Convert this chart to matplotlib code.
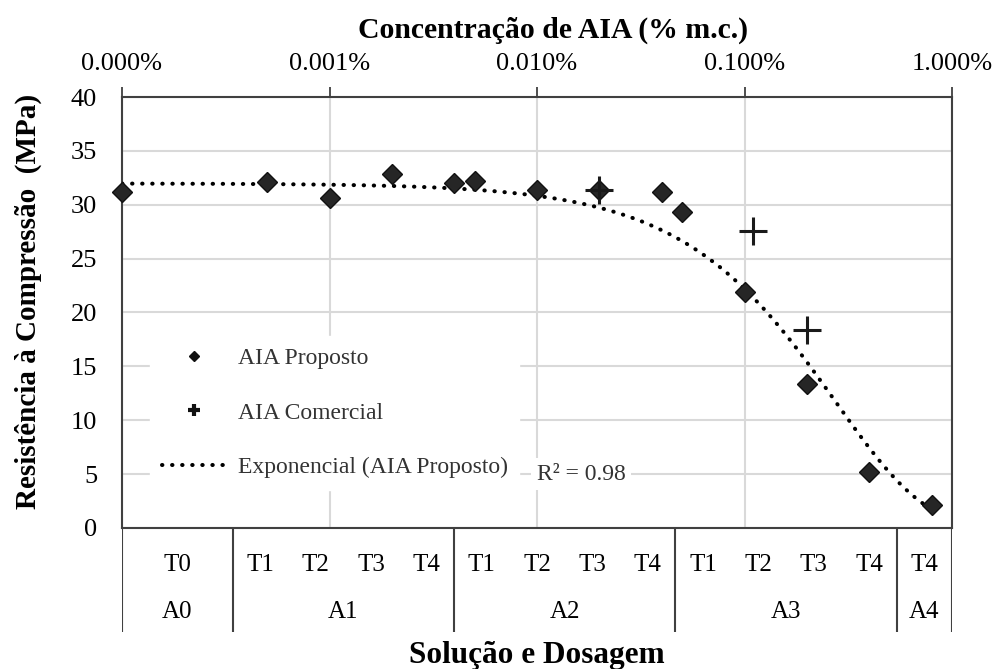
import numpy as np
import matplotlib
matplotlib.use("Agg")
import matplotlib.pyplot as plt
from matplotlib.lines import Line2D
from matplotlib.ticker import FixedLocator, NullLocator, FuncFormatter

plt.rcParams['font.family'] = ['Liberation Serif', 'DejaVu Serif']

# AIA Proposto: concentration (% m.c.) and compressive strength (MPa)
conc_proposto = [0.0, 0.0005, 0.001, 0.002, 0.004, 0.005, 0.01, 0.02,
                 0.04, 0.05, 0.1, 0.2, 0.4, 0.8]
res_proposto = [31.2, 32.1, 30.6, 32.9, 32.0, 32.2, 31.4, 31.4,
                31.2, 29.3, 21.9, 13.4, 5.2, 2.1]

# AIA Comercial
conc_comercial = [0.02, 0.11, 0.2]
res_comercial = [31.4, 27.6, 18.4]

# bottom category table
groups = ["A0", "A1", "A2", "A3", "A4"]
group_slots = [2, 4, 4, 4, 1]
doses = [["T0"], ["T1", "T2", "T3", "T4"], ["T1", "T2", "T3", "T4"],
         ["T1", "T2", "T3", "T4"], ["T4"]]

top_ticks = [0.0001, 0.001, 0.01, 0.1, 1.0]
x_min = 0.0001  # "0.000%" sits at the left end of the log axis

# exponential trend fitted on ln(y) like Excel does
cp = np.array(conc_proposto)
rp = np.array(res_proposto)
b, ln_a = np.polyfit(cp, np.log(rp), 1)
x_fit = np.logspace(np.log10(x_min), np.log10(cp.max()), 300)
y_fit = np.exp(ln_a) * np.exp(b * x_fit)

fig = plt.figure(figsize=(10, 6.69), dpi=100)
ax = fig.add_axes([0.122, 0.2108, 0.83, 0.6442])

dark = "#404040"
grid_c = "#d9d9d9"

ax.set_xscale("log")
ax.set_xlim(x_min, 1.0)
ax.set_ylim(0, 40)

ax.plot(np.maximum(cp, x_min), rp, ls="none", marker="D", ms=10,
        mfc="#262626", mec="#111111", mew=1, zorder=4, clip_on=False)
ax.plot(conc_comercial, res_comercial, ls="none", marker="+", ms=20,
        mec="#1a1a1a", mew=2.2, zorder=5)
ax.plot(x_fit, y_fit, color="black", lw=2.9, ls=(0, (0.1, 2.4)),
        dash_capstyle="round", zorder=3)

# axes, ticks, grid
ax.xaxis.tick_top()
ax.xaxis.set_major_locator(FixedLocator(top_ticks))
ax.xaxis.set_minor_locator(NullLocator())
ax.xaxis.set_major_formatter(FuncFormatter(lambda v, p: f"{v:.3f}%"))
ax.tick_params(axis="x", which="major", direction="out", length=7, width=1.3,
               color=dark, labelsize=19, pad=9, top=True, bottom=False)
ax.set_yticks(np.arange(0, 41, 5))
ax.tick_params(axis="y", length=0, labelsize=19, pad=18)
ax.grid(True, axis="both", which="major", color=grid_c, lw=1.5)
ax.set_axisbelow(True)
for s in ax.spines.values():
    s.set_color(dark)
    s.set_linewidth(1.5)

# legend
handles = [
    Line2D([], [], ls="none", marker="D", ms=5.5, mfc="#111111", mec="#111111"),
    Line2D([], [], ls="none", marker="+", ms=8, mec="#111111", mew=3),
    Line2D([], [], color="black", lw=2.9, ls=(0, (0.1, 2.4)), dash_capstyle="round"),
]
labels = ["AIA Proposto", "AIA Comercial", "Exponencial (AIA Proposto)"]
leg = ax.legend(handles, labels, loc="upper left", bbox_to_anchor=(0.034, 0.446),
                borderaxespad=0, frameon=True, fancybox=False, framealpha=1,
                facecolor="white", edgecolor="white", fontsize=17,
                handlelength=2.75, handletextpad=0.45, labelspacing=1.4,
                borderpad=0.5)
for t in leg.get_texts():
    t.set_color("#333333")

ax.text(0.5, 0.125, "R² = 0.98", transform=ax.transAxes, fontsize=17,
        color="#333333", va="center", ha="left",
        bbox=dict(facecolor="white", edgecolor="none", pad=4))

# titles
fig.text(0.553, 0.955, "Concentração de AIA (% m.c.)", ha="center", va="center",
         fontsize=21.4, fontweight="bold")
fig.text(0.028, 0.55, "Resistência à Compressão  (MPa)", ha="center", va="center",
         rotation=90, fontsize=21, fontweight="bold")
fig.text(0.537, 0.02, "Solução e Dosagem", ha="center", va="center",
         fontsize=22.5, fontweight="bold")

# category table under the plot
tab = fig.add_axes([0.122, 0.0553, 0.83, 0.1555])
tab.set_xlim(0, sum(group_slots))
tab.set_ylim(0, 1)
tab.axis("off")
edges = np.concatenate([[0], np.cumsum(group_slots)])
tab.vlines(edges, 0, 1, color=dark, lw=1.5)
for g, start, width, ds in zip(groups, edges[:-1], group_slots, doses):
    n = len(ds)
    for i, d in enumerate(ds):
        tab.text(start + (i + 0.5) * width / n, 0.64, d, ha="center",
                 va="center", fontsize=18)
    tab.text(start + width / 2, 0.19, g, ha="center", va="center", fontsize=18)

fig.savefig("out.png", dpi=100)
